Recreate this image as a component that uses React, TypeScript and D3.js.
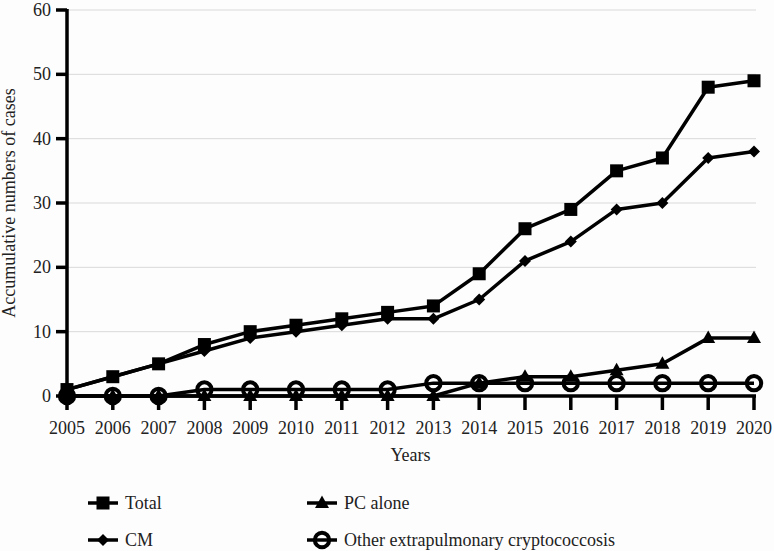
import React from "react";
import * as d3 from "d3";

const years = [2005, 2006, 2007, 2008, 2009, 2010, 2011, 2012, 2013, 2014, 2015, 2016, 2017, 2018, 2019, 2020];
const total = [1, 3, 5, 8, 10, 11, 12, 13, 14, 19, 26, 29, 35, 37, 48, 49];
const cm = [1, 3, 5, 7, 9, 10, 11, 12, 12, 15, 21, 24, 29, 30, 37, 38];
const pcAlone = [0, 0, 0, 0, 0, 0, 0, 0, 0, 2, 3, 3, 4, 5, 9, 9];
const other = [0, 0, 0, 1, 1, 1, 1, 1, 2, 2, 2, 2, 2, 2, 2, 2];
const yTicks = [0, 10, 20, 30, 40, 50, 60];

const seriesNames = ["Total", "CM", "PC alone", "Other extrapulmonary cryptococcosis"];

const W = 774;
const H = 551;
const FONT = "Liberation Serif";
const TXT = { fontFamily: FONT, fontSize: 18, fill: "#222" };

function Marker({ type, x, y }: { type: string; x: number; y: number }) {
  if (type === "square") {
    return <rect x={x - 6.5} y={y - 6.5} width={13} height={13} fill="#000" />;
  }
  if (type === "diamond") {
    return <path d={`M${x},${y - 6} L${x + 6},${y} L${x},${y + 6} L${x - 6},${y} Z`} fill="#000" />;
  }
  if (type === "triangle") {
    return <path d={`M${x},${y - 7.5} L${x + 7},${y + 5} L${x - 7},${y + 5} Z`} fill="#000" />;
  }
  return <circle cx={x} cy={y} r={7.2} fill="none" stroke="#000" strokeWidth={4} />;
}

export default function App() {
  const x = d3.scaleLinear().domain([2005, 2020]).range([67, 754]);
  const y = d3.scaleLinear().domain([0, 60]).range([396, 10]);

  const series = [
    { name: seriesNames[0], values: total, marker: "square" },
    { name: seriesNames[1], values: cm, marker: "diamond" },
    { name: seriesNames[2], values: pcAlone, marker: "triangle" },
    { name: seriesNames[3], values: other, marker: "circle" },
  ];

  const line = d3
    .line<number>()
    .x((_, i) => x(years[i]))
    .y((v) => y(v));

  const legendPos = [
    { lx: 88, ly: 503 },
    { lx: 88, ly: 540 },
    { lx: 307, ly: 503 },
    { lx: 307, ly: 540 },
  ];

  return (
    <svg
      width={W}
      height={H}
      style={{ position: "absolute", left: 0, top: 0, background: "#fdfdfd" }}
    >
      {yTicks.filter((t) => t > 0).map((t) => (
        <line key={t} x1={x(2005)} x2={x(2020) + 2} y1={y(t)} y2={y(t)} stroke="#d9d9d9" strokeWidth={1} />
      ))}
      {yTicks.map((t) => (
        <g key={t}>
          <line x1={x(2005) - 11} x2={x(2005)} y1={y(t)} y2={y(t)} stroke="#000" strokeWidth={3.5} />
          <text x={x(2005) - 16} y={y(t)} dy="0.33em" textAnchor="end" style={TXT}>
            {t}
          </text>
        </g>
      ))}
      {years.map((yr) => (
        <g key={yr}>
          <line x1={x(yr)} x2={x(yr)} y1={y(0)} y2={y(0) + 14} stroke="#000" strokeWidth={3.5} />
          <text x={x(yr)} y={y(0) + 38} textAnchor="middle" style={TXT}>
            {yr}
          </text>
        </g>
      ))}
      {series.map((s) => (
        <g key={s.name}>
          <path d={line(s.values) || ""} fill="none" stroke="#000" strokeWidth={3.5} strokeLinejoin="round" />
          {s.values.map((v, i) => (
            <Marker key={i} type={s.marker} x={x(years[i])} y={y(v)} />
          ))}
        </g>
      ))}
      <line x1={x(2005)} x2={x(2005)} y1={y(60) - 1} y2={y(0) + 2} stroke="#000" strokeWidth={3.5} />
      <line x1={x(2005) - 1} x2={x(2020) + 2} y1={y(0)} y2={y(0)} stroke="#000" strokeWidth={3.5} />
      <text x={(x(2005) + x(2020)) / 2} y={461} textAnchor="middle" style={TXT}>
        Years
      </text>
      <text transform={`translate(15, ${y(30)}) rotate(-90)`} textAnchor="middle" style={TXT}>
        Accumulative numbers of cases
      </text>
      {series.map((s, i) => {
        const p = legendPos[i];
        return (
          <g key={s.name}>
            <line x1={p.lx} x2={p.lx + 30} y1={p.ly} y2={p.ly} stroke="#000" strokeWidth={3.5} />
            <Marker type={s.marker} x={p.lx + 15} y={p.ly} />
            <text x={p.lx + 37} y={p.ly} dy="0.33em" style={TXT}>
              {s.name}
            </text>
          </g>
        );
      })}
    </svg>
  );
}
